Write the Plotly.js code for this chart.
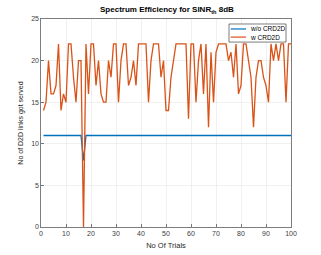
<!DOCTYPE html>
<html><head><meta charset="utf-8">
<script src="https://cdn.plot.ly/plotly-3.0.1.min.js"></script>
<style>html,body{margin:0;padding:0;background:#fff}</style>
</head><body><div id="chart" style="width:321px;height:255px"></div>
<script>
const trials = Array.from({length:100},(_,i)=>i+1);
const withoutCRD2D = [11,11,11,11,11,11,11,11,11,11,11,11,11,11,11,11,8,11,11,11,
11,11,11,11,11,11,11,11,11,11,11,11,11,11,11,11,11,11,11,11,
11,11,11,11,11,11,11,11,11,11,11,11,11,11,11,11,11,11,11,11,
11,11,11,11,11,11,11,11,11,11,11,11,11,11,11,11,11,11,11,11,
11,11,11,11,11,11,11,11,11,11,11,11,11,11,11,11,11,11,11,11];
const withCRD2D = [14,15,20,16,16,17,22,14,16,15,22,22,18,15,20,20,0,22,16,22,
22,17,20,16,15,15,20,18,22,22,15,20,22,22,17,18,20,17,22,22,
22,22,15,20,22,22,22,18,20,14,14,18,20,22,22,22,22,22,13,22,
22,15,20,22,16,22,12,21,15,21,22,22,22,22,20,21,18,22,16,17,
22,22,20,18,12,18,20,20,18,17,15,22,20,22,20,22,22,15,22,22];
const seriesNames = ['w/o CRD2D','w CRD2D'];
const seriesColors = ['#0072BD','#D95319'];
const xTicks = [0,10,20,30,40,50,60,70,80,90,100];
const yTicks = [0,5,10,15,20,25];

const FONT = 'Liberation Sans, Arial, sans-serif';
const axisCommon = {
  showline:true, mirror:true, linecolor:'#262626', linewidth:0.6,
  ticks:'inside', ticklen:3, tickwidth:0.6, tickcolor:'#262626',
  showgrid:true, gridcolor:'#e6e6e6', gridwidth:0.6, zeroline:false,
  tickfont:{family:FONT, size:7, color:'#404040'}
};
const data = [
  {x:trials, y:withoutCRD2D, name:seriesNames[0], type:'scatter', mode:'lines',
   line:{color:seriesColors[0], width:1.3}},
  {x:trials, y:withCRD2D, name:seriesNames[1], type:'scatter', mode:'lines',
   line:{color:seriesColors[1], width:1.3}}
];
// custom compact legend (MATLAB style)
const legY = [0.952, 0.913];
const shapes = [
  {type:'rect', xref:'paper', yref:'paper', x0:0.752, x1:0.98, y0:0.889, y1:0.976,
   line:{color:'#262626', width:0.6}, fillcolor:'#fff', layer:'above'}
];
const annotations = [];
seriesNames.forEach((n,i)=>{
  shapes.push({type:'line', xref:'paper', yref:'paper', x0:0.759, x1:0.82, y0:legY[i], y1:legY[i],
    line:{color:seriesColors[i], width:1.2}, layer:'above'});
  annotations.push({xref:'paper', yref:'paper', x:0.826, y:legY[i], xanchor:'left', yanchor:'middle',
    text:n, showarrow:false, font:{family:FONT, size:6.5, color:'#000'}});
});
const layout = {
  width:321, height:255,
  margin:{l:41, r:30, t:19, b:28, pad:0},
  paper_bgcolor:'#fff', plot_bgcolor:'#fff',
  title:{text:'<b>Spectrum Efficiency for SINR<sub>th</sub> 8dB</b>', x:0.52, xanchor:'center', y:0.975, yanchor:'top',
    font:{family:FONT, size:8, color:'#000'}},
  xaxis:Object.assign({}, axisCommon, {range:[0,100], tickvals:xTicks, ticktext:xTicks.map(String),
    title:{text:'No Of Trials', standoff:6, font:{family:FONT, size:7.5, color:'#262626'}}}),
  yaxis:Object.assign({}, axisCommon, {range:[0,25], tickvals:yTicks, ticktext:yTicks.map(String),
    title:{text:'No of D2D links got served', standoff:6, font:{family:FONT, size:7, color:'#262626'}}}),
  shapes:shapes, annotations:annotations,
  showlegend:false
};
Plotly.newPlot('chart', data, layout, {displayModeBar:false, staticPlot:true});
</script></body></html>
